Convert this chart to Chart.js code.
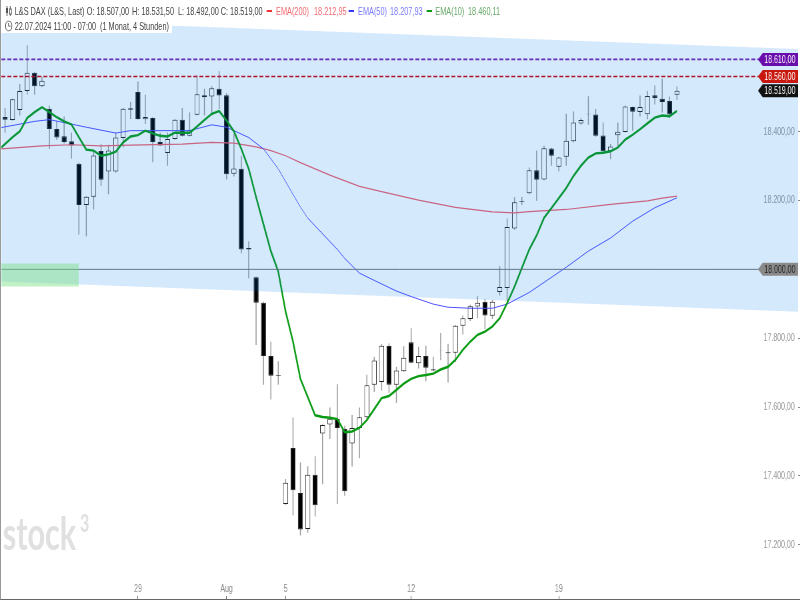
<!DOCTYPE html>
<html lang="de">
<head>
<meta charset="utf-8">
<title>L&amp;S DAX</title>
<script src="https://cdn.jsdelivr.net/npm/chart.js@4/dist/chart.umd.min.js"></script>
<style>
	html, body { margin: 0; padding: 0; width: 800px; height: 600px; overflow: hidden; background: #fff; }
	/* the reference is squeezed sideways, so the whole stage is drawn 1200 wide and scaled down */
	#stage { position: absolute; left: 0; top: 0; width: 1200px; height: 600px; transform: scaleX(0.6667); transform-origin: 0 0; }
	#stage canvas { position: absolute; left: 0; top: 0; }
	#edge { position: absolute; left: 0; top: 0; width: 800px; height: 600px; box-sizing: border-box; border-left: 1px solid #999; border-bottom: 1px solid #666; }
	.hd { position: absolute; font: 11px "Liberation Sans", Arial, sans-serif; color: #444; white-space: pre; line-height: 12px; }
	.box { position: absolute; background: #fff; }
	.key { position: absolute; width: 8px; height: 2px; top: 10px; }
	#mark { position: absolute; left: 4px; top: 505px; font: bold 46px Lato, sans-serif; color: #e0e0e0; white-space: pre; }
	#mark3 { position: absolute; left: 120px; top: 508px; font: bold 24px Lato, sans-serif; color: #e0e0e0; }
	svg { position: absolute; }
</style>
</head>
<body>
<div id="stage">
	<canvas id="dax" width="1200" height="600"></canvas>
	<div class="box" style="left:0;top:16px;width:258px;height:17px"></div>
	<svg style="left:8px;top:5px" width="10" height="12" viewBox="0 0 10 12"><path d="M2.5 1v10M7.5 1v10" stroke="#555"/><rect x="1" y="3" width="3" height="5" fill="#555"/><rect x="6" y="4" width="3" height="5" fill="#fff" stroke="#555"/></svg>
	<span class="hd" style="left:22px;top:5px">L&amp;S DAX (L&amp;S, Last)</span>
	<span class="hd" style="left:130px;top:5px">O: 18.507,00</span>
	<span class="hd" style="left:198px;top:5px">H: 18.531,50</span>
	<span class="hd" style="left:267px;top:5px">L: 18.492,00</span>
	<span class="hd" style="left:331px;top:5px">C: 18.519,00</span>
	<span class="key" style="left:400px;background:#f0303a"></span>
	<span class="hd" style="left:414px;top:5px;color:#f26a72">EMA(200)</span>
	<span class="hd" style="left:471px;top:5px;color:#f26a72">18.212,95</span>
	<span class="key" style="left:523px;background:#3a3aff"></span>
	<span class="hd" style="left:537px;top:5px;color:#7a7aff">EMA(50)</span>
	<span class="hd" style="left:585px;top:5px;color:#7a7aff">18.207,93</span>
	<span class="key" style="left:640px;background:#0a9b14"></span>
	<span class="hd" style="left:653px;top:5px;color:#6aa86a">EMA(10)</span>
	<span class="hd" style="left:702px;top:5px;color:#6aa86a">18.460,11</span>
	<svg style="left:7px;top:20px" width="12" height="12" viewBox="0 0 12 12"><circle cx="6" cy="6" r="4.8" fill="none" stroke="#555"/><path d="M6 3v3.2h3" fill="none" stroke="#555"/></svg>
	<span class="hd" style="left:22px;top:20px">22.07.2024 11:00 - 07:00</span>
	<span class="hd" style="left:150px;top:20px">(1 Monat, 4 Stunden)</span>
	<span id="mark">stock</span>
	<span id="mark3">3</span>
</div>
<div id="edge"></div>
<script>
const candleOpen = [18442, 18443, 18434, 18463, 18518, 18571, 18532, 18467, 18408, 18387, 18372, 18307, 18187, 18211, 18344, 18284, 18284, 18382, 18468, 18515, 18436, 18440, 18370, 18338, 18379, 18435, 18388, 18449, 18506, 18502, 18525, 18506, 18278, 18292, 18062, 17977, 17903, 17748, 17693, 17318, 17481, 17350, 17246, 17403, 17523, 17549, 17566, 17537, 17494, 17539, 17570, 17665, 17673, 17777, 17665, 17704, 17788, 17727, 17748, 17710, 17764, 17759, 17758, 17836, 17856, 17892, 17906, 17865, 17934, 17946, 18119, 18198, 18221, 18288, 18261, 18351, 18298, 18327, 18372, 18424, 18451, 18450, 18389, 18343, 18390, 18399, 18472, 18457, 18451, 18506, 18496, 18489, 18507]
const candleHigh = [18460, 18469, 18496, 18539, 18651, 18573, 18559, 18476, 18432, 18444, 18398, 18310, 18213, 18345, 18364, 18362, 18398, 18469, 18486, 18546, 18507, 18442, 18398, 18398, 18437, 18469, 18456, 18564, 18525, 18532, 18576, 18512, 18393, 18330, 18082, 17979, 17906, 17790, 17733, 17391, 17570, 17439, 17428, 17457, 17550, 17599, 17666, 17546, 17577, 17599, 17694, 17746, 17783, 17785, 17717, 17777, 17829, 17775, 17778, 17746, 17815, 17784, 17838, 17866, 17897, 17922, 17914, 17911, 18009, 18148, 18210, 18210, 18296, 18345, 18359, 18353, 18327, 18452, 18459, 18440, 18503, 18466, 18427, 18364, 18427, 18476, 18473, 18505, 18518, 18534, 18554, 18502, 18531.5]
const candleLow = [18340, 18397, 18432, 18447, 18507, 18507, 18530, 18350, 18376, 18366, 18322, 18101, 18096, 18174, 18242, 18218, 18281, 18354, 18437, 18435, 18422, 18311, 18359, 18301, 18377, 18386, 18386, 18447, 18447, 18447, 18466, 18261, 18270, 18047, 17974, 17780, 17665, 17622, 17665, 17316, 17285, 17227, 17235, 17282, 17376, 17507, 17318, 17342, 17427, 17451, 17566, 17644, 17648, 17641, 17612, 17702, 17727, 17712, 17675, 17704, 17736, 17671, 17731, 17811, 17850, 17858, 17826, 17856, 17924, 17907, 18115, 18187, 18218, 18199, 18259, 18301, 18284, 18301, 18369, 18420, 18420, 18385, 18340, 18320, 18354, 18398, 18403, 18444, 18436, 18479, 18456, 18440, 18492]
const candleClose = [18350, 18435, 18494, 18518, 18571, 18532, 18548, 18408, 18383, 18370, 18360, 18187, 18211, 18331, 18260, 18345, 18383, 18467, 18464, 18437, 18443, 18370, 18360, 18379, 18435, 18388, 18405, 18509, 18500, 18526, 18505, 18276, 18293, 18058, 18058, 17903, 17748, 17691, 17691, 17380, 17358, 17244, 17403, 17315, 17548, 17566, 17539, 17355, 17539, 17570, 17663, 17735, 17778, 17665, 17706, 17743, 17729, 17748, 17714, 17706, 17765, 17756, 17836, 17858, 17893, 17903, 17866, 17906, 17949, 18123, 18195, 18196, 18288, 18260, 18352, 18330, 18325, 18374, 18427, 18434, 18452, 18388, 18343, 18357, 18400, 18473, 18458, 18472, 18504, 18498, 18486, 18450, 18519]

const ema10 = [18345, 18364, 18384, 18401, 18440, 18457, 18471, 18457, 18442, 18430, 18421, 18384, 18348, 18345, 18330, 18334, 18342, 18369, 18386, 18390, 18403, 18395, 18388, 18386, 18397, 18397, 18397, 18415, 18434, 18452, 18460, 18432, 18401, 18350, 18292, 18210, 18131, 18053, 17994, 17877, 17790, 17682, 17629, 17576, 17571, 17569, 17565, 17527, 17529, 17540, 17562, 17594, 17626, 17632, 17650, 17668, 17682, 17690, 17693, 17697, 17709, 17717, 17737, 17766, 17790, 17810, 17819, 17834, 17858, 17902, 17950, 18004, 18058, 18099, 18150, 18178, 18207, 18236, 18272, 18301, 18325, 18337, 18339, 18343, 18354, 18377, 18391, 18407, 18424, 18441, 18447, 18445, 18460.11]

const ema50Slots = [-1, 4, 6, 9, 11, 15, 17, 21, 25, 28, 30, 33, 35, 37, 40, 41, 42, 45, 46, 48, 50, 53, 55, 58, 60, 63, 66, 68, 71, 76, 79, 82, 85, 88, 91]
const ema50 = [18410, 18430, 18435, 18422, 18413, 18396, 18403, 18403, 18403, 18420, 18413, 18383, 18350, 18292, 18181, 18149, 18126, 18058, 18032, 17989, 17968, 17937, 17921, 17899, 17890, 17887, 17887, 17899, 17933, 18006, 18053, 18091, 18140, 18179, 18207.93]

const ema200Slots = [-1, 5, 9, 13, 17, 24, 28, 31, 34, 36, 38, 40, 44, 48, 51, 56, 61, 66, 69, 71, 76, 82, 87, 89, 91]
const ema200 = [18349, 18359, 18362, 18359, 18361, 18364, 18369, 18367, 18356, 18345, 18330, 18310, 18274, 18241, 18226, 18201, 18180, 18167, 18164, 18168, 18174, 18189, 18199, 18207, 18212.95]

const xMin = -0.5
const xMax = 107.4
const yMin = 17051
const yMax = 18782.6

const daySlots = [18, 30, 38, 55, 75]
const dayLabels = ['29', 'Aug', '5', '12', '19']
const priceTicks = [17200, 17400, 17600, 17800, 18200, 18400]

const channelTop = [18727, 18640]
const channelBottom = [17965, 17877]
const zoneSlots = [-1, 10]
const zoneTop = [18017, 18017]
const zoneBottom = [17950, 17950]

const tagLevels = [18610, 18560, 18000, 18519]
const tagTexts = ['18.610,00', '18.560,00', '18.000,00', '18.519,00']
const tagColors = ['#6a0dad', '#c8170d', '#8a8a8a', '#111111']
const tagInk = ['#fff', '#fff', '#222', '#fff']

const slots = candleOpen.map((v, n) => n - 1)
const bodyColors = candleOpen.map((v, n) => candleClose[n] >= v ? '#ffffff' : '#000000')
const pairs = (xs, ys) => ys.map((y, n) => ({ x: xs[n], y: y }))
const acrossChart = (ys) => pairs([xMin, xMax], ys)

const flat = (level, color, width, dash, order) => ({
	type: 'line',
	data: acrossChart([level, level]),
	borderColor: color,
	borderWidth: width,
	borderDash: dash,
	pointRadius: 0,
	order: order
})

const priceTags = {
	id: 'priceTags',
	afterDraw(chart) {
		const c = chart.ctx
		const y = chart.scales.y
		const left = 1137
		const right = 1197
		tagLevels.forEach((level, n) => {
			const py = y.getPixelForValue(level)
			c.fillStyle = tagColors[n]
			c.beginPath()
			c.moveTo(left, py)
			c.lineTo(left + 7, py - 6.5)
			c.lineTo(right, py - 6.5)
			c.lineTo(right, py + 6.5)
			c.lineTo(left + 7, py + 6.5)
			c.closePath()
			c.fill()
			c.fillStyle = tagInk[n]
			c.font = '10.5px "Liberation Sans", Arial, sans-serif'
			c.textAlign = 'right'
			c.textBaseline = 'middle'
			c.fillText(tagTexts[n], right - 4, py + 0.5)
		})
	}
}

const chart = new Chart(document.getElementById('dax').getContext('2d'), {
	type: 'bar',
	data: {
		datasets: [
			{
				data: pairs(slots, candleLow.map((low, n) => [low, candleHigh[n]])),
				backgroundColor: '#999999',
				maxBarThickness: 1.5,
				grouped: false,
				order: 9
			},
			{
				data: pairs(slots, candleOpen.map((o, n) => [o, candleClose[n]])),
				backgroundColor: bodyColors,
				borderColor: '#222222',
				borderWidth: 1,
				borderSkipped: false,
				maxBarThickness: 7.5,
				grouped: false,
				order: 8
			},
			{ type: 'line', data: pairs(ema200Slots, ema200), borderColor: '#f0606a', borderWidth: 1.2, pointRadius: 0, order: 7 },
			{ type: 'line', data: pairs(ema50Slots, ema50), borderColor: '#5050ff', borderWidth: 1, pointRadius: 0, order: 6 },
			{ type: 'line', data: pairs(slots, ema10), borderColor: '#0a9b14', borderWidth: 2.4, pointRadius: 0, order: 5 },
			flat(18000, '#777777', 1, [], 4),
			flat(18610, '#7a20b0', 1.6, [6, 3], 3),
			flat(18560, '#d00000', 1.5, [6, 3], 3),
			{ type: 'line', data: acrossChart(channelTop), borderWidth: 0, pointRadius: 0, fill: '+1', backgroundColor: 'rgba(0, 121, 243, 0.165)', order: 1 },
			{ type: 'line', data: acrossChart(channelBottom), borderWidth: 0, pointRadius: 0, order: 1 },
			{ type: 'line', data: pairs(zoneSlots, zoneTop), borderWidth: 0, pointRadius: 0, fill: '+1', backgroundColor: 'rgba(120, 225, 130, 0.45)', order: 0 },
			{ type: 'line', data: pairs(zoneSlots, zoneBottom), borderWidth: 0, pointRadius: 0, order: 0 }
		]
	},
	options: {
		responsive: false,
		animation: false,
		devicePixelRatio: 1,
		layout: { padding: { left: 2 } },
		plugins: {
			legend: { display: false },
			tooltip: { enabled: false }
		},
		scales: {
			x: {
				type: 'linear',
				min: xMin,
				max: xMax,
				offset: false,
				afterBuildTicks: scale => { scale.ticks = daySlots.map(value => ({ value: value })) },
				afterFit: scale => { scale.height = 4; scale.paddingLeft = 0; scale.paddingRight = 0 },
				grid: { drawOnChartArea: false, offset: false, color: '#666', tickLength: 3 },
				border: { display: false },
				ticks: {
					mirror: true,
					padding: 1,
					autoSkip: false,
					maxRotation: 0,
					color: '#888',
					font: { family: '"Liberation Sans", Arial, sans-serif', size: 10.5 },
					callback: value => dayLabels[daySlots.indexOf(value)]
				}
			},
			y: {
				position: 'right',
				min: yMin,
				max: yMax,
				afterBuildTicks: scale => { scale.ticks = priceTicks.map(value => ({ value: value })) },
				afterFit: scale => { scale.width = 3; scale.paddingTop = 0; scale.paddingBottom = 0 },
				grid: { drawOnChartArea: false, color: '#888', tickLength: 3 },
				border: { display: false },
				ticks: {
					mirror: true,
					padding: -5,
					color: '#999',
					font: { family: '"Liberation Sans", Arial, sans-serif', size: 10.5 },
					callback: value => value.toLocaleString('de-DE', { minimumFractionDigits: 2 })
				}
			}
		}
	},
	plugins: [priceTags]
})
</script>
</body>
</html>
